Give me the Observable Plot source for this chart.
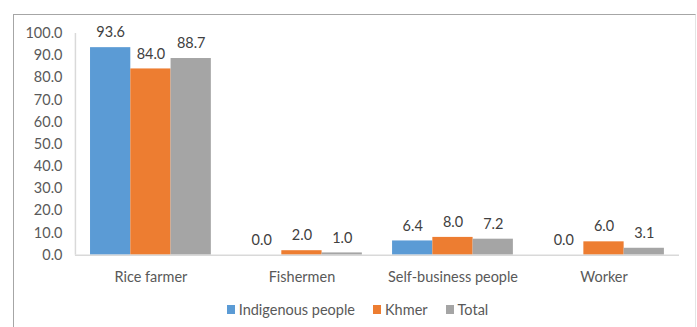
<!DOCTYPE html>
<html>
<head>
<meta charset="utf-8">
<script src="https://cdn.jsdelivr.net/npm/d3@7"></script>
<script src="https://cdn.jsdelivr.net/npm/@observablehq/plot@0.6"></script>
<style>
  html, body { margin: 0; padding: 0; background: #fff; }
  #frame {
    position: absolute; left: 13px; top: 14px;
    width: 683px; height: 313px;
    border-top: 1.5px solid #a6a6a6;
    border-left: 1.5px solid #a6a6a6;
    border-right: 1px solid #e4e4e4;
    box-sizing: border-box;
    font-family: Lato, "Open Sans", sans-serif;
  }
  #legend {
    display: flex; justify-content: center; align-items: center;
    gap: 18px; font-size: 14.5px; color: #595959;
    margin-top: 8px; padding-left: 6px;
  }
  #legend .item { display: flex; align-items: center; gap: 4px; }
  #legend .sw { width: 8px; height: 9px; display: inline-block; }
</style>
</head>
<body>
<div id="frame">
  <div id="chart"></div>
  <div id="legend"></div>
</div>
<script>
// Occupation shares (%) by group
const categories = ["Rice farmer", "Fishermen", "Self-business people", "Worker"];
const seriesNames = ["Indigenous people", "Khmer", "Total"];
const indigenous = [93.6, 0.0, 6.4, 0.0];
const khmer = [84.0, 2.0, 8.0, 6.0];
const total = [88.7, 1.0, 7.2, 3.1];
const yTicks = [0, 10, 20, 30, 40, 50, 60, 70, 80, 90, 100];

const colors = ["#5B9BD5", "#ED7D31", "#A5A5A5"];
const groupWidth = 0.8;                     // share of each category slot used by its bars
const barWidth = groupWidth / seriesNames.length;

const seriesValues = [indigenous, khmer, total];
const rows = [];
categories.forEach((c, ci) => {
  seriesValues.forEach((vals, si) => {
    const left = ci - groupWidth / 2 + si * barWidth;
    rows.push({category: c, series: seriesNames[si], si, value: vals[ci],
               x1: left, x2: left + barWidth, xm: left + barWidth / 2});
  });
});

const chart = Plot.plot({
  width: 682,
  height: 278,
  marginLeft: 61,
  marginRight: 16,
  marginTop: 18,
  marginBottom: 38,
  style: {fontFamily: "Lato, 'Open Sans', sans-serif", fontSize: "14.5px", color: "#595959", background: "transparent"},
  x: {type: "linear", domain: [-0.5, categories.length - 0.5], ticks: categories.map((_, i) => i),
      tickFormat: i => categories[i] ?? "", tickSize: 0, tickPadding: 17, label: null},
  y: {domain: [0, 100], ticks: yTicks, tickFormat: d => d.toFixed(1), tickSize: 0, tickPadding: 13, label: null},
  color: {domain: seriesNames, range: colors},
  marks: [
    Plot.rectY(rows, {x1: "x1", x2: "x2", y: "value", fill: "series"}),
    Plot.ruleY([0], {stroke: "#d9d9d9", strokeWidth: 1.5}),
    Plot.ruleX([-0.5], {y1: 0, y2: 100, stroke: "#d9d9d9", strokeWidth: 1.5}),
    Plot.text(rows, {x: "xm", y: "value", text: d => d.value.toFixed(1), dy: -15,
                     fill: "#404040", fontSize: 14.5})
  ]
});
document.getElementById("chart").appendChild(chart);

const legend = d3.select("#legend");
seriesNames.forEach((name, i) => {
  const item = legend.append("div").attr("class", "item");
  item.append("span").attr("class", "sw").style("background", colors[i]);
  item.append("span").text(name);
});
</script>
</body>
</html>
